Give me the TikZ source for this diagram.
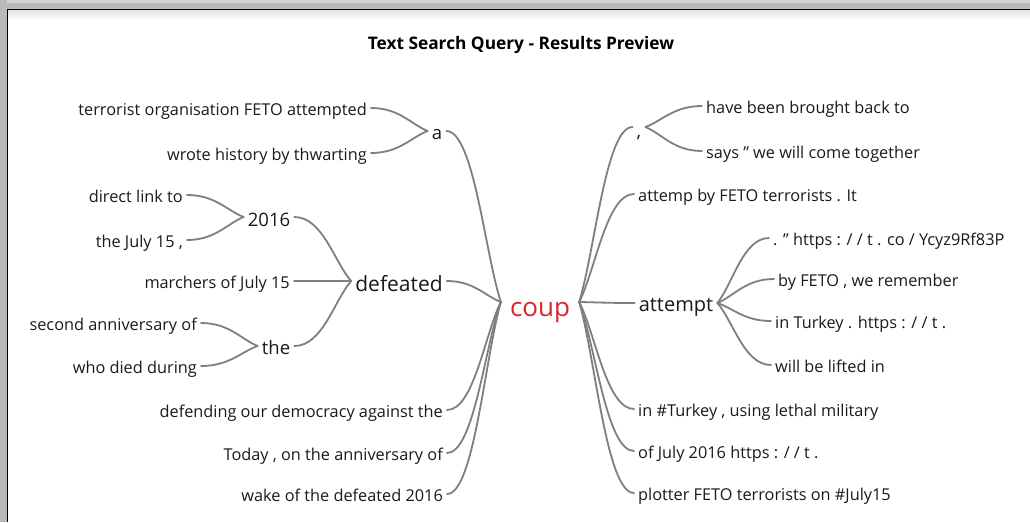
\documentclass[tikz,border=0pt]{standalone}
\usepackage{fontspec}
\setmainfont{Open Sans}
\usetikzlibrary{calc}
\definecolor{txt}{HTML}{1A1A1A}
\definecolor{ln}{HTML}{7F7F7F}
\definecolor{cp}{HTML}{D7262E}
\definecolor{band}{HTML}{B9B9B9}
\begin{document}
\begin{tikzpicture}[x=1pt,y=-1pt,
  br/.style={to path={let \p1=(\tikztostart), \p2=(\tikztotarget) in
     .. controls ($(\p1)!0.3!(\p2)$) and ({0.5*\x1+0.5*\x2},\y2) .. (\tikztotarget)}},
  conn/.style={draw=ln, line width=1.8pt, line cap=round},
  base/.style={inner xsep=4pt, inner ysep=0pt, text=txt, text height=15pt, text depth=0pt,
     font=\fontsize{16.3}{18}\selectfont},
  lf/.style={base, anchor=east},
  rf/.style={base, anchor=west},
  hub/.style={base, font=\fontsize{18.5}{20}\selectfont, text height=17pt},
]
\useasboundingbox (0,0) rectangle (1030,522);
% frame
\fill[band] (0,0) rectangle (1030,9.5);
\fill[band!60] (0,0) rectangle (1030,3);
\fill[band] (0,0) rectangle (7,522);
\fill[white] (7,10) rectangle (1030,522);
\shade[top color=black!10, bottom color=white] (8,10.5) rectangle (1030,20);
\draw[black, line width=1.6pt] (7.5,522) -- (7.5,9.5) -- (1030,9.5);

% title
\node[font=\bfseries\fontsize{17.3}{19}\selectfont, text=black] (title) at (521,45) {Text Search Query - Results Preview};

% central
\node[base, font=\fontsize{26}{30}\selectfont, text=cp, text height=28pt, inner xsep=9pt] (coup) at (540,302) {coup};

% left side hubs
\node[hub, text height=16pt] (a) at (437,131) {a};
\node[hub, text height=18pt] (y2016) at (269,217) {2016};
\node[hub, font=\fontsize{21}{24}\selectfont, text height=20pt] (defeated) at (399,281) {defeated};
\node[hub, text height=16pt] (the) at (276,346) {the};

% left leaves
\node[lf] (t1) at (371,108) {terrorist organisation FETO attempted};
\node[lf] (t2) at (371,153) {wrote history by thwarting};
\node[lf] (t3) at (187,195) {direct link to};
\node[lf] (t4) at (187,240) {the July 15 ,};
\node[lf] (t5) at (294,281) {marchers of July 15};
\node[lf] (t6) at (201,323) {second anniversary of};
\node[lf] (t7) at (201,366) {who died during};
\node[lf] (t8) at (447,410) {defending our democracy against the};
\node[lf] (t9) at (447,453) {Today , on the anniversary of};
\node[lf] (t10) at (447,494) {wake of the defeated 2016};

% right side hubs
\node[hub, text height=20pt] (comma) at (639,127) {,};
\node[hub, font=\fontsize{20}{24}\selectfont, text height=16pt] (attempt) at (676,303) {attempt};

% right leaves
\node[rf] (r1) at (702,106) {have been brought back to};
\node[rf] (r2) at (702,151) {says " we will come together};
\node[rf] (r3) at (634,194) {attemp by FETO terrorists . It};
\node[rf] (r4) at (769,238) {. " https : / / t . co / Ycyz9Rf83P};
\node[rf] (r5) at (774,279) {by FETO , we remember};
\node[rf] (r6) at (771,321) {in Turkey . https : / / t .};
\node[rf] (r7) at (771,365) {will be lifted in};
\node[rf] (r8) at (634,409) {in \#Turkey , using lethal military};
\node[rf] (r9) at (634,451) {of July 2016 https : / / t .};
\node[rf] (r10) at (634,493) {plotter FETO terrorists on \#July15};

% connectors left
\draw[conn] (a.west) to[br] (t1.east);
\draw[conn] (a.west) to[br] (t2.east);
\draw[conn] (y2016.west) to[br] (t3.east);
\draw[conn] (y2016.west) to[br] (t4.east);
\draw[conn] (the.west) to[br] (t6.east);
\draw[conn] (the.west) to[br] (t7.east);
\draw[conn] (defeated.west) to[br] (y2016.east);
\draw[conn] (defeated.west) to[br] (t5.east);
\draw[conn] (defeated.west) to[br] (the.east);
\draw[conn] (coup.west) to[br] (a.east);
\draw[conn] (coup.west) to[br] (defeated.east);
\draw[conn] (coup.west) to[br] (t8.east);
\draw[conn] (coup.west) to[br] (t9.east);
\draw[conn] (coup.west) to[br] (t10.east);
% connectors right
\draw[conn] (coup.east) to[br] (comma.west);
\draw[conn] (coup.east) to[br] (r3.west);
\draw[conn] (coup.east) to[br] (attempt.west);
\draw[conn] (coup.east) to[br] (r8.west);
\draw[conn] (coup.east) to[br] (r9.west);
\draw[conn] (coup.east) to[br] (r10.west);
\draw[conn] (comma.east) to[br] (r1.west);
\draw[conn] (comma.east) to[br] (r2.west);
\draw[conn] (attempt.east) to[br] (r4.west);
\draw[conn] (attempt.east) to[br] (r5.west);
\draw[conn] (attempt.east) to[br] (r6.west);
\draw[conn] (attempt.east) to[br] (r7.west);
\end{tikzpicture}
\end{document}
